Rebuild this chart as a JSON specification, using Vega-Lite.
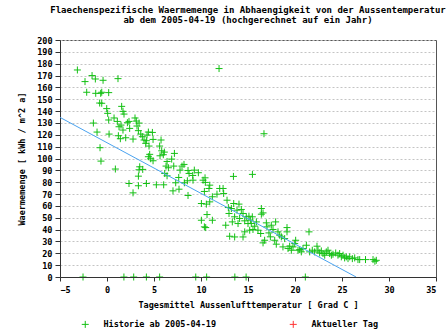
{
  "$schema": "https://vega.github.io/schema/vega-lite/v6.json",
  "width": 376,
  "height": 237,
  "autosize": {"type": "none"},
  "padding": {"left": 60, "top": 40, "right": 12, "bottom": 54},
  "background": "white",
  "title": {
    "text": ["Flaechenspezifische Waermemenge in Abhaengigkeit von der Aussentemperatur", "ab dem 2005-04-19 (hochgerechnet auf ein Jahr)"],
    "font": "DejaVu Sans Mono", "fontSize": 9, "fontWeight": "bold", "lineHeight": 10,
    "anchor": "middle", "offset": 11, "color": "black"
  },
  "config": {
    "view": {"stroke": "#555", "strokeWidth": 1},
    "axis": {
      "labelFont": "DejaVu Sans Mono", "labelFontSize": 8.5, "labelFontWeight": "bold", "labelColor": "black",
      "titleFont": "DejaVu Sans Mono", "titleFontSize": 8.5, "titleFontWeight": "bold", "titleColor": "black",
      "domainColor": "#333", "tickColor": "#333", "labelOverlap": false
    }
  },
  "layer": [
    {
      "data": {"values": [
        {"x":-3.15,"y":174.7},{"x":-1.59,"y":170.0},{"x":-1.24,"y":167.1},{"x":-0.42,"y":166.0},{"x":1.17,"y":167.4},
        {"x":-2.34,"y":164.9},{"x":-2.16,"y":155.9},{"x":-1.20,"y":155.0},{"x":-0.67,"y":155.0},{"x":-0.56,"y":155.9},
        {"x":0.18,"y":155.6},{"x":-0.78,"y":146.8},{"x":-0.56,"y":146.6},{"x":-0.03,"y":142.1},{"x":0.07,"y":138.1},
        {"x":1.56,"y":144.0},{"x":1.70,"y":139.8},{"x":1.81,"y":137.5},{"x":-1.45,"y":129.9},{"x":-1.06,"y":122.3},
        {"x":-0.74,"y":109.1},{"x":-0.64,"y":97.8},{"x":0.89,"y":91.1},{"x":0.22,"y":120.6},{"x":0.18,"y":132.5},
        {"x":0.75,"y":134.2},{"x":1.10,"y":131.3},{"x":1.28,"y":126.8},{"x":1.49,"y":128.2},{"x":1.70,"y":124.0},
        {"x":2.17,"y":130.2},{"x":2.34,"y":131.3},{"x":2.41,"y":125.4},{"x":1.21,"y":119.2},{"x":1.42,"y":116.7},
        {"x":1.99,"y":117.5},{"x":2.77,"y":116.4},{"x":2.98,"y":134.2},{"x":3.12,"y":131.6},{"x":3.19,"y":127.4},
        {"x":3.34,"y":123.5},{"x":3.41,"y":129.9},{"x":3.59,"y":120.6},{"x":3.76,"y":118.4},{"x":3.94,"y":115.6},
        {"x":4.12,"y":112.8},{"x":4.26,"y":119.8},{"x":4.40,"y":122.3},{"x":4.19,"y":115.0},{"x":4.47,"y":110.5},
        {"x":4.83,"y":122.0},{"x":4.90,"y":116.1},{"x":4.54,"y":103.5},{"x":4.40,"y":101.5},{"x":4.65,"y":99.8},
        {"x":4.90,"y":98.1},{"x":5.60,"y":110.5},{"x":5.75,"y":115.6},{"x":5.82,"y":106.5},{"x":5.99,"y":103.2},
        {"x":6.10,"y":105.4},{"x":6.39,"y":97.5},{"x":5.64,"y":102.3},{"x":6.28,"y":93.6},{"x":7.17,"y":104.3},
        {"x":6.88,"y":99.5},{"x":7.10,"y":93.6},{"x":6.53,"y":92.2},{"x":3.48,"y":93.0},{"x":3.41,"y":90.5},
        {"x":3.80,"y":90.8},{"x":3.34,"y":85.1},{"x":7.98,"y":93.6},{"x":8.19,"y":95.0},{"x":7.77,"y":90.2},
        {"x":8.62,"y":89.9},{"x":9.29,"y":90.2},{"x":9.12,"y":85.7},{"x":8.73,"y":87.4},{"x":9.72,"y":88.0},
        {"x":10.43,"y":83.7},{"x":13.45,"y":84.9},{"x":11.92,"y":175.9},{"x":6.14,"y":87.4},{"x":6.39,"y":85.4},
        {"x":7.63,"y":84.0},{"x":15.47,"y":86.6},{"x":16.7,"y":120.9},
        {"x":2.34,"y":78.9},{"x":3.34,"y":77.0},{"x":4.19,"y":78.9},{"x":2.77,"y":71.0},{"x":5.25,"y":77.8},
        {"x":6.03,"y":77.8},{"x":7.02,"y":72.7},{"x":7.31,"y":79.5},{"x":7.66,"y":74.1},{"x":8.23,"y":79.5},
        {"x":8.55,"y":81.2},{"x":8.62,"y":68.8},{"x":10.04,"y":62.0},{"x":10.36,"y":72.2},{"x":10.46,"y":79.8},
        {"x":10.57,"y":61.5},{"x":10.64,"y":52.7},{"x":10.85,"y":74.7},{"x":10.04,"y":47.9},{"x":10.36,"y":42.3},
        {"x":10.5,"y":41.7},{"x":11.21,"y":47.9},{"x":11.21,"y":67.7},{"x":11.7,"y":69.9},{"x":12.41,"y":70.5},
        {"x":12.91,"y":58.6},{"x":13.05,"y":34.4},{"x":10.93,"y":63.4},{"x":12.77,"y":64.8},{"x":11.99,"y":74.7},
        {"x":12.35,"y":74.7},{"x":9.15,"y":81.7},{"x":10.22,"y":81.7},{"x":10.93,"y":77.5},{"x":12.98,"y":53.6},
        {"x":12.63,"y":43.7},{"x":13.58,"y":33.8},{"x":14.47,"y":33.8},
        {"x":13.48,"y":62.0},{"x":14.04,"y":61.5},{"x":13.23,"y":57.8},{"x":13.83,"y":56.4},{"x":14.29,"y":57.0},
        {"x":14.47,"y":53.6},{"x":13.58,"y":50.8},{"x":14.11,"y":49.4},{"x":13.33,"y":46.5},{"x":13.94,"y":45.1},
        {"x":14.65,"y":47.4},{"x":14.82,"y":50.8},{"x":15.1,"y":51.3},{"x":15.25,"y":48.0},{"x":15.46,"y":50.8},
        {"x":15.0,"y":45.1},{"x":15.35,"y":45.1},{"x":15.71,"y":42.9},{"x":15.18,"y":39.5},{"x":14.65,"y":38.1},
        {"x":15.53,"y":40.1},{"x":15.89,"y":46.5},{"x":16.06,"y":39.5},{"x":16.42,"y":57.8},{"x":16.42,"y":53.0},
        {"x":16.6,"y":54.1},{"x":16.35,"y":36.7},{"x":16.6,"y":28.8},{"x":16.77,"y":31.0},{"x":16.95,"y":45.7},
        {"x":17.02,"y":42.3},{"x":17.23,"y":37.2},{"x":17.38,"y":33.9},{"x":17.48,"y":43.7},{"x":17.66,"y":40.1},
        {"x":17.84,"y":31.0},{"x":17.94,"y":46.5},{"x":18.01,"y":27.7},{"x":18.19,"y":38.1},{"x":18.37,"y":35.3},
        {"x":18.55,"y":33.9},{"x":18.72,"y":25.4},{"x":18.9,"y":32.4},{"x":19.15,"y":41.7},{"x":19.15,"y":38.1},
        {"x":19.26,"y":24.0},{"x":19.43,"y":26.0},{"x":19.61,"y":22.6},{"x":19.79,"y":25.4},{"x":19.97,"y":28.2},
        {"x":20.07,"y":31.0},{"x":20.32,"y":22.6},{"x":20.5,"y":23.1},{"x":20.67,"y":21.2},{"x":20.85,"y":24.0},
        {"x":21.21,"y":26.8},{"x":21.49,"y":38.1},{"x":21.56,"y":21.2},{"x":21.84,"y":22.6},{"x":22.09,"y":21.2},
        {"x":22.34,"y":26.0},{"x":22.45,"y":22.6},{"x":22.62,"y":20.3},{"x":22.8,"y":22.0},{"x":22.98,"y":19.8},
        {"x":23.16,"y":18.4},{"x":23.33,"y":21.2},{"x":23.51,"y":22.6},{"x":23.69,"y":19.8},{"x":23.87,"y":18.4},
        {"x":24.04,"y":19.2},{"x":24.33,"y":20.3},{"x":24.57,"y":18.4},{"x":24.75,"y":19.8},{"x":24.93,"y":17.0},
        {"x":25.11,"y":18.4},{"x":25.28,"y":16.1},{"x":25.46,"y":17.0},{"x":25.64,"y":15.5},{"x":25.82,"y":17.0},
        {"x":26.1,"y":15.5},{"x":26.35,"y":16.1},{"x":26.7,"y":14.7},{"x":26.88,"y":14.7},{"x":27.5,"y":14.7},
        {"x":28.3,"y":14.7},{"x":28.65,"y":14.1},{"x":28.5,"y":13.3},
        {"x":-2.55,"y":0},{"x":1.8,"y":0},{"x":2.84,"y":0},{"x":4.19,"y":0},{"x":5.6,"y":0},
        {"x":9.44,"y":0},{"x":10.6,"y":0},{"x":13.6,"y":0},{"x":14.8,"y":0},{"x":21.1,"y":0}
      ]},
      "mark": {"type": "point", "shape": "M-1,0L1,0M0,-1L0,1", "filled": false, "size": 49, "strokeWidth": 1, "opacity": 1},
      "encoding": {
        "x": {"field": "x", "type": "quantitative",
          "scale": {"domain": [-5, 35], "nice": false, "zero": false},
          "axis": {"values": [-5,0,5,10,15,20,25,30,35], "tickCount": 9, "grid": false, "title": "Tagesmittel Aussenlufttemperatur [ Grad C ]",
            "titlePadding": 7, "labelPadding": 4, "tickSize": 4, "zindex": 1}},
        "y": {"field": "y", "type": "quantitative",
          "scale": {"domain": [0, 200], "nice": false},
          "axis": {"values": [0,10,20,30,40,50,60,70,80,90,100,110,120,130,140,150,160,170,180,190,200], "tickCount": 21,
            "grid": true, "gridDash": [2, 2], "gridColor": "#c4c4c4", "title": "Waermemenge [ kWh / m^2 a]",
            "titlePadding": 10, "tickSize": 5, "labelPadding": 3}},
        "color": {"datum": "Historie ab 2005-04-19", "type": "nominal",
          "scale": {"domain": ["Historie ab 2005-04-19", "Aktueller Tag"], "range": ["#14c014", "#ff3333"]},
          "legend": {"orient": "none", "legendX": 21, "legendY": 280, "direction": "horizontal", "title": null,
            "symbolType": "M-1,0L1,0M0,-1L0,1", "symbolSize": 49, "symbolStrokeWidth": 1,
            "labelFont": "DejaVu Sans Mono", "labelFontSize": 8.5, "labelFontWeight": "bold", "labelColor": "black",
            "labelOffset": 14, "columnPadding": 70}}
      }
    },
    {
      "data": {"values": [{"x": -5, "y": 134.7}, {"x": 26.5, "y": 0}]},
      "mark": {"type": "line", "color": "#4aa3f0", "strokeWidth": 1},
      "encoding": {
        "x": {"field": "x", "type": "quantitative"},
        "y": {"field": "y", "type": "quantitative"}
      }
    }
  ]
}
